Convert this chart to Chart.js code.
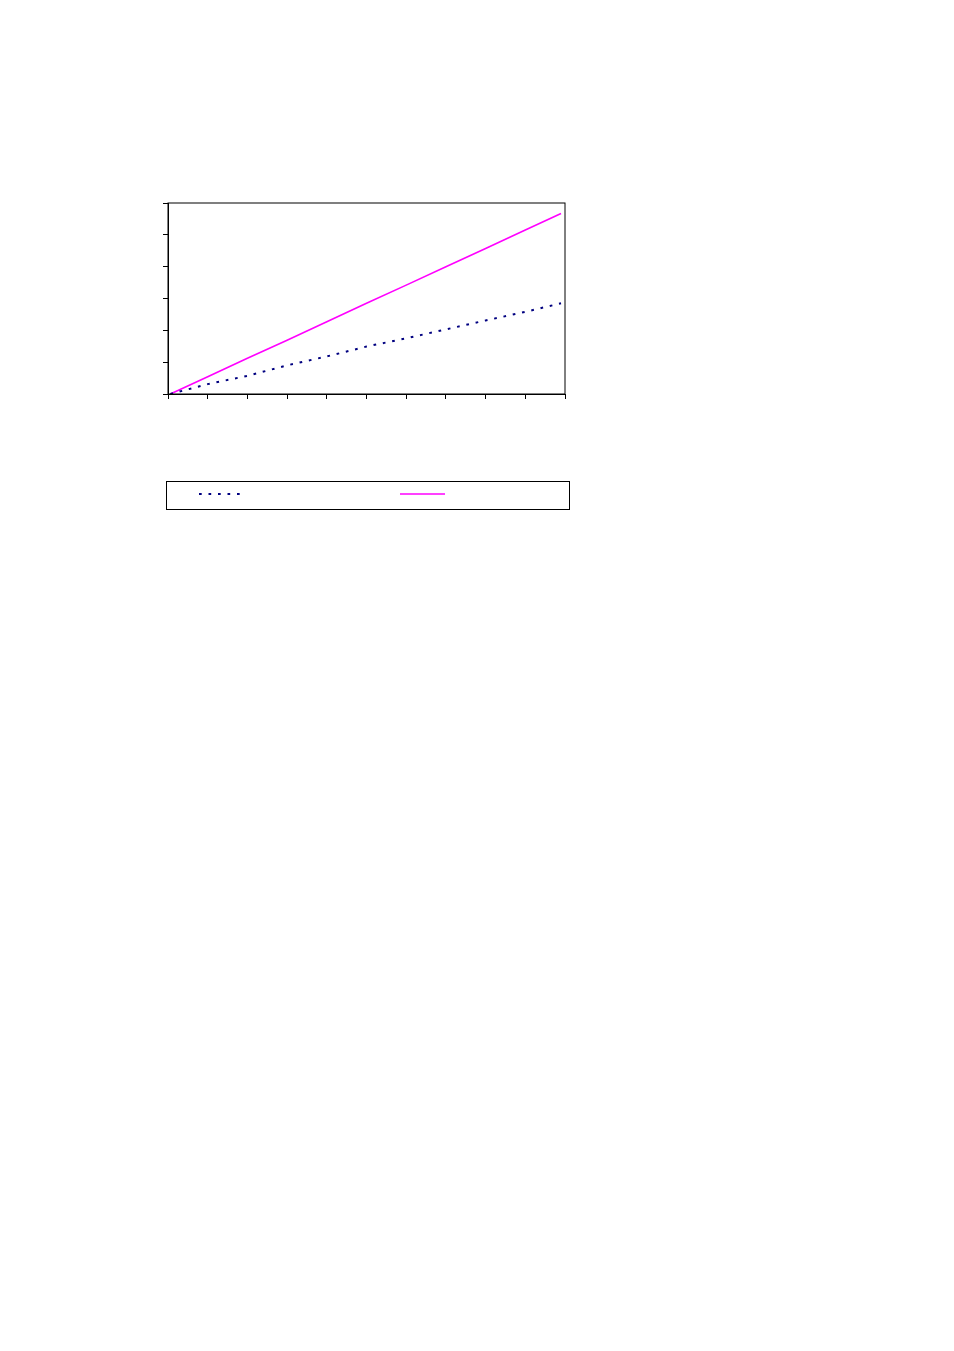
<!DOCTYPE html>
<html>
<head>
<meta charset="utf-8">
<script src="https://cdn.jsdelivr.net/npm/chart.js@4/dist/chart.umd.min.js"></script>
<style>
  html, body { margin: 0; padding: 0; background: #fff; }
  #wrap { position: absolute; left: 0; top: 0; width: 954px; height: 540px; }
</style>
</head>
<body>
<div id="wrap"><canvas id="myChart"></canvas></div>
<script>
// values
var xValues = [0.06, 1, 2, 3, 4, 5, 6, 7, 8, 9, 9.9];
var dashedSeries = [0, 0.31, 0.57, 0.90, 1.18, 1.49, 1.75, 2.03, 2.31, 2.58, 2.85];
var solidSeries = [0, 0.54, 1.12, 1.69, 2.27, 2.85, 3.42, 4.00, 4.57, 5.15, 5.67];
var yTicks = [0, 1, 2, 3, 4, 5, 6];
var xTicks = [0, 1, 2, 3, 4, 5, 6, 7, 8, 9, 10];

function toPoints(ys) {
  return xValues.map(function (x, i) { return { x: x, y: ys[i] }; });
}

// full frame round the plot area plus the boxed legend below it
var framePlugin = {
  id: 'frame',
  afterDraw: function (chart) {
    var c = chart.ctx, a = chart.chartArea;
    c.save();
    c.strokeStyle = '#000';
    c.lineWidth = 1;
    c.strokeRect(a.left, a.top, a.right - a.left, a.bottom - a.top);

    // legend box
    c.strokeRect(166.5, 481.5, 403, 28);
    var ds = chart.data.datasets;
    var samples = [[199, 240], [400, 445]];
    ds.forEach(function (d, i) {
      c.beginPath();
      c.strokeStyle = d.borderColor;
      c.lineWidth = d.borderWidth;
      c.setLineDash(d.borderDash || []);
      c.moveTo(samples[i][0], 494);
      c.lineTo(samples[i][1], 494);
      c.stroke();
    });
    c.restore();
  }
};

var ctx = document.getElementById('myChart').getContext('2d');
var myChart = new Chart(ctx, {
  type: 'line',
  data: {
    datasets: [{
      data: toPoints(dashedSeries),
      borderColor: '#000080',
      borderWidth: 2,
      borderDash: [2.7, 6.8],
      pointRadius: 0,
      fill: false
    }, {
      data: toPoints(solidSeries),
      borderColor: '#ff00ff',
      borderWidth: 1.6,
      pointRadius: 0,
      fill: false
    }]
  },
  plugins: [framePlugin],
  options: {
    responsive: true,
    maintainAspectRatio: false,
    animation: false,
    layout: {
      padding: { left: 162, top: 203, right: 389, bottom: 140 }
    },
    plugins: {
      legend: { display: false },
      tooltip: { enabled: false }
    },
    elements: { line: { tension: 0 } },
    scales: {
      x: {
        type: 'linear',
        min: xTicks[0],
        max: xTicks[xTicks.length - 1],
        afterBuildTicks: function (s) { s.ticks = xTicks.map(function (v) { return { value: v }; }); },
        afterFit: function (s) { s.height = 6; },
        ticks: { display: false },
        grid: { drawOnChartArea: false, drawTicks: true, tickLength: 5, color: '#000' },
        border: { display: true, color: '#000', width: 1 }
      },
      y: {
        min: yTicks[0],
        max: yTicks[yTicks.length - 1],
        afterBuildTicks: function (s) { s.ticks = yTicks.map(function (v) { return { value: v }; }); },
        afterFit: function (s) { s.width = 6; },
        ticks: { display: false },
        grid: { drawOnChartArea: false, drawTicks: true, tickLength: 5, color: '#000' },
        border: { display: true, color: '#000', width: 1 }
      }
    }
  }
});
</script>
</body>
</html>
